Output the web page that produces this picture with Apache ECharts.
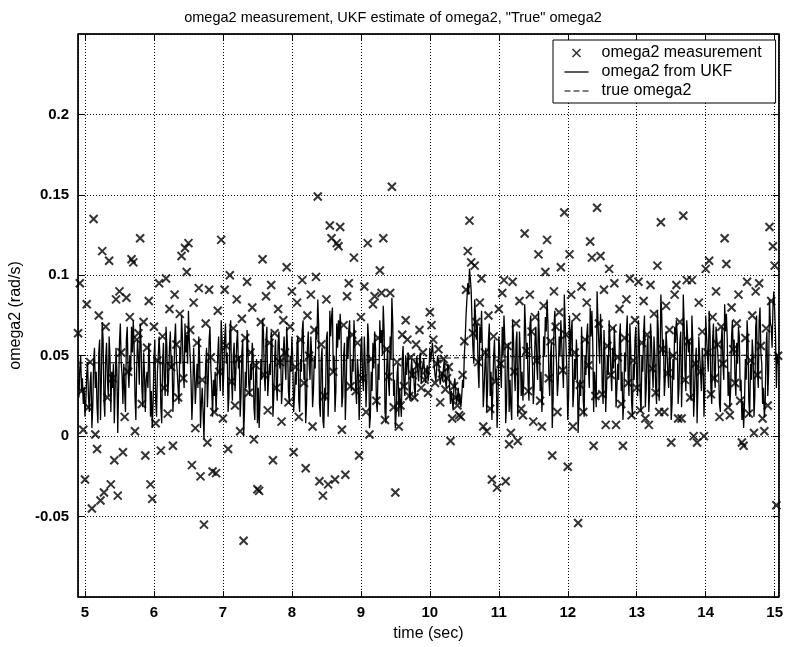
<!DOCTYPE html>
<html>
<head>
<meta charset="utf-8">
<script src="https://cdn.jsdelivr.net/npm/echarts@6/dist/echarts.min.js"></script>
<style>
  html, body { margin: 0; padding: 0; background: #fff; }
  #chart { width: 786px; height: 647px; }
</style>
</head>
<body>
<div id="chart"></div>
<script>
// Sampling (seconds): measurements and filter output start at the same instant
const sampleStart = 4.9;
const measPeriod = 0.025;
const ukfPeriod = 0.0125;

// omega2 measurements (rad/s)
const measurement = [
  0.064,0.095,0.028,0.004,-0.027,0.082,0.018,0.046,-0.045,0.135,0.001,-0.008,0.075,-0.040,0.115,-0.035,0.068,0.024,0.109,-0.030,
  0.036,-0.015,0.085,-0.037,0.090,0.052,-0.010,0.012,0.086,0.040,0.074,0.110,0.108,0.003,0.060,0.064,0.123,0.020,0.071,-0.012,
  0.055,0.084,-0.030,-0.039,0.068,0.008,0.047,0.095,-0.009,0.062,0.030,0.098,0.014,0.079,0.043,-0.006,0.088,0.057,0.024,0.076,
  0.112,0.036,0.117,0.102,0.120,0.066,-0.018,0.083,0.005,0.058,0.092,-0.025,0.035,-0.055,0.070,-0.004,0.091,0.049,-0.022,0.015,
  -0.023,0.078,0.040,0.122,0.011,0.091,0.056,-0.008,0.100,0.034,0.067,0.019,0.085,0.048,0.003,0.073,-0.065,0.061,0.096,0.027,
  0.052,0.080,-0.002,0.044,-0.033,-0.034,0.071,0.110,0.038,0.087,0.016,0.058,0.094,-0.015,0.064,0.030,0.079,0.046,0.009,0.072,
  0.052,0.105,0.021,0.068,0.090,-0.010,0.043,0.083,0.012,0.060,0.097,0.033,-0.020,0.075,0.050,0.088,0.006,0.066,0.099,0.149,
  -0.028,0.057,-0.037,0.025,0.085,-0.030,0.131,0.123,0.040,-0.027,0.120,0.118,0.130,0.004,0.069,-0.024,0.087,0.095,0.031,0.063,
  0.111,0.028,0.058,-0.012,0.074,0.036,0.093,0.015,0.120,0.001,0.048,0.082,0.087,0.022,0.061,0.103,0.089,0.123,0.010,0.054,
  0.037,0.089,0.155,0.018,-0.035,0.046,0.006,0.019,0.063,0.031,0.072,0.060,0.025,0.049,0.038,0.024,0.057,0.044,0.066,0.030,
  0.052,0.035,0.041,0.027,0.077,0.069,0.060,0.033,0.045,0.054,0.021,0.039,0.048,0.029,0.036,0.043,-0.003,0.011,0.031,0.024,
  0.019,0.013,0.012,0.038,0.059,0.091,0.115,0.134,0.108,0.064,0.106,0.071,0.046,0.083,0.098,0.006,0.052,0.003,0.075,0.017,
  -0.027,0.062,0.034,-0.032,0.079,0.045,0.089,0.097,-0.028,0.056,-0.005,0.002,0.096,0.040,0.070,-0.003,0.084,0.017,0.013,0.126,
  0.053,0.028,0.088,0.065,0.009,0.074,0.047,0.113,0.022,0.006,0.081,0.102,0.122,0.036,0.059,-0.012,0.090,0.068,0.015,0.077,
  0.105,0.041,0.139,0.063,-0.019,0.113,0.088,0.006,0.052,0.074,-0.054,0.032,0.093,0.015,0.060,0.083,0.044,0.121,0.111,-0.006,
  0.025,0.142,0.070,0.112,0.026,0.091,0.007,0.056,0.104,0.038,0.067,0.095,0.007,0.049,0.079,0.020,-0.006,0.061,0.085,0.033,
  0.098,0.013,0.047,0.072,0.030,0.096,0.016,0.058,0.084,0.011,0.063,0.007,0.094,0.042,0.076,0.027,0.106,0.015,0.133,0.054,
  0.015,0.081,0.039,0.066,-0.004,0.050,0.088,0.094,0.011,0.071,0.011,0.137,0.035,0.097,0.059,0.024,0.097,0.000,0.045,-0.004,
  0.083,0.040,0.065,0.000,0.104,0.052,0.109,0.026,0.074,0.036,0.090,0.057,0.012,0.068,0.045,0.123,0.107,0.018,0.013,0.080,
  0.054,0.033,0.070,0.088,0.022,-0.004,-0.006,0.061,0.096,0.014,0.047,0.075,0.002,0.090,0.038,0.095,0.056,0.011,0.003,0.067,
  0.019,0.130,0.084,0.118,0.106,-0.043,0.050
];

// UKF estimate of omega2 (rad/s)
const ukfEstimate = [
  0.035,0.024,0.042,0.050,0.028,0.036,0.020,0.030,0.012,0.022,0.038,0.046,0.025,0.015,0.033,0.040,0.005,0.018,0.045,0.055,
  0.030,0.040,0.018,0.008,0.052,0.060,0.010,0.035,0.071,0.060,0.022,0.012,0.048,0.058,0.035,0.025,0.062,0.050,0.015,0.040,
  0.030,0.045,0.008,0.030,0.055,0.040,0.002,0.030,0.058,0.070,0.046,0.038,0.020,0.045,0.028,0.015,0.060,0.068,0.041,0.030,
  0.050,0.040,0.068,0.052,0.072,0.055,0.025,0.010,0.043,0.060,0.048,0.032,0.070,0.058,0.030,0.018,0.052,0.040,0.015,0.035,
  0.040,0.030,0.058,0.045,0.012,0.028,0.005,0.020,0.048,0.060,0.022,0.012,0.040,0.050,0.062,0.048,0.018,0.008,0.045,0.058,
  0.035,0.025,0.068,0.055,0.025,0.035,0.055,0.065,0.042,0.050,0.015,0.030,0.060,0.070,0.048,0.040,0.030,0.020,0.055,0.045,
  0.075,0.062,0.040,0.030,0.070,0.052,0.063,0.045,0.078,0.060,0.050,0.035,0.010,0.025,0.055,0.040,0.020,0.032,0.045,0.030,
  0.062,0.048,0.005,0.020,0.030,0.015,-0.002,0.025,0.045,0.055,0.018,0.035,0.060,0.068,0.042,0.030,0.012,0.035,0.025,0.040,
  0.015,0.030,0.050,0.062,0.038,0.028,0.072,0.060,0.025,0.040,0.060,0.070,0.045,0.052,0.015,0.025,0.065,0.072,0.035,0.022,
  0.050,0.058,0.028,0.040,0.058,0.066,0.042,0.050,0.012,0.025,0.052,0.060,0.000,0.015,0.040,0.030,0.066,0.055,0.032,0.025,
  0.045,0.035,0.058,0.050,0.018,0.010,0.040,0.048,0.008,0.030,0.005,0.022,0.048,0.035,0.073,0.065,0.038,0.028,0.060,0.068,
  0.025,0.035,0.045,0.038,0.065,0.058,0.012,0.025,0.048,0.060,0.032,0.022,0.058,0.065,0.042,0.050,0.020,0.030,0.052,0.062,
  0.045,0.035,0.068,0.055,0.028,0.020,0.050,0.040,0.062,0.048,0.015,0.025,0.040,0.032,0.058,0.062,0.022,0.015,0.048,0.040,
  0.066,0.072,0.035,0.045,0.008,0.020,0.055,0.065,0.045,0.035,0.062,0.050,0.018,0.028,0.050,0.042,0.068,0.060,0.085,0.070,
  0.020,0.012,0.048,0.055,0.010,0.005,0.030,0.022,0.060,0.065,0.012,0.030,0.078,0.062,0.074,0.080,0.040,0.050,0.015,0.028,
  0.070,0.055,0.072,0.060,0.076,0.065,0.018,0.025,0.050,0.058,0.010,0.030,0.062,0.048,0.066,0.072,0.035,0.028,0.048,0.040,
  0.072,0.058,0.030,0.020,0.048,0.040,0.010,0.025,0.055,0.062,0.035,0.028,0.062,0.045,0.018,0.035,0.070,0.060,0.005,0.012,
  0.040,0.028,0.058,0.042,0.065,0.055,0.022,0.015,0.045,0.035,0.072,0.058,0.066,0.050,0.081,0.065,0.015,0.008,0.042,0.055,
  0.035,0.025,0.062,0.048,0.086,0.070,0.025,0.035,0.005,0.015,0.038,0.045,0.012,0.030,0.020,0.012,0.048,0.056,0.032,0.025,
  0.050,0.038,0.046,0.052,0.028,0.022,0.040,0.048,0.036,0.042,0.030,0.024,0.045,0.050,0.040,0.034,0.048,0.052,0.033,0.040,
  0.045,0.048,0.038,0.033,0.040,0.044,0.034,0.040,0.055,0.046,0.052,0.058,0.050,0.044,0.038,0.034,0.043,0.050,0.047,0.040,
  0.032,0.036,0.040,0.034,0.044,0.048,0.035,0.030,0.038,0.045,0.041,0.030,0.020,0.028,0.022,0.016,0.032,0.036,0.028,0.020,
  0.024,0.030,0.020,0.026,0.018,0.025,0.035,0.030,0.050,0.060,0.075,0.085,0.095,0.088,0.104,0.098,0.090,0.070,0.055,0.045,
  0.085,0.075,0.060,0.070,0.042,0.030,0.068,0.058,0.078,0.052,0.018,0.030,0.045,0.055,0.015,0.030,0.060,0.070,0.025,0.040,
  0.010,0.028,0.050,0.060,0.035,0.042,0.005,0.020,0.062,0.055,0.040,0.030,0.068,0.050,0.075,0.060,0.008,0.020,0.048,0.058,
  0.015,0.035,0.018,0.010,0.072,0.062,0.040,0.028,0.058,0.065,0.012,0.030,0.065,0.052,0.025,0.040,0.022,0.035,0.082,0.068,
  0.048,0.058,0.032,0.022,0.068,0.075,0.055,0.045,0.020,0.030,0.060,0.068,0.045,0.035,0.078,0.062,0.028,0.040,0.015,0.028,
  0.062,0.050,0.074,0.065,0.085,0.070,0.038,0.025,0.050,0.058,0.005,0.022,0.068,0.078,0.058,0.045,0.025,0.035,0.062,0.050,
  0.072,0.058,0.042,0.030,0.088,0.070,0.055,0.040,0.010,0.025,0.075,0.050,0.065,0.072,0.018,0.028,0.048,0.035,0.060,0.048,
  0.002,0.018,0.035,0.025,0.068,0.052,0.022,0.012,0.050,0.038,0.062,0.070,0.042,0.030,0.080,0.062,0.078,0.058,0.015,0.040,
  0.030,0.018,0.090,0.072,0.058,0.045,0.076,0.062,0.030,0.020,0.066,0.050,0.015,0.030,0.050,0.038,0.072,0.060,0.040,0.028,
  0.055,0.042,0.068,0.052,0.018,0.030,0.045,0.035,0.062,0.070,0.028,0.040,0.010,0.022,0.052,0.040,0.065,0.075,0.036,0.025,
  0.070,0.055,0.022,0.012,0.045,0.035,0.060,0.068,0.035,0.025,0.072,0.058,0.025,0.015,0.050,0.040,0.065,0.075,0.018,0.030,
  0.055,0.062,0.015,0.028,0.070,0.060,0.042,0.030,0.062,0.050,0.030,0.020,0.078,0.065,0.022,0.040,0.088,0.075,0.050,0.060,
  0.025,0.035,0.065,0.055,0.040,0.030,0.055,0.045,0.010,0.020,0.048,0.035,0.068,0.058,0.072,0.062,0.020,0.030,0.058,0.065,
  0.018,0.040,0.088,0.070,0.040,0.028,0.072,0.062,0.052,0.060,0.030,0.022,0.075,0.060,0.012,0.025,0.045,0.055,0.008,0.030,
  0.062,0.050,0.040,0.028,0.055,0.045,0.012,0.030,0.075,0.062,0.050,0.040,0.078,0.065,0.030,0.020,0.060,0.070,0.038,0.030,
  0.068,0.060,0.052,0.040,0.020,0.015,0.058,0.068,0.045,0.035,0.082,0.065,0.076,0.060,0.025,0.040,0.018,0.030,0.062,0.072,
  0.050,0.060,0.035,0.025,0.058,0.045,0.068,0.062,0.028,0.035,0.010,0.022,0.005,0.020,0.048,0.035,0.072,0.060,0.022,0.012,
  0.045,0.035,0.060,0.050,0.012,0.025,0.068,0.075,0.040,0.030,0.072,0.080,0.052,0.045,0.020,0.030,0.012,0.020,0.055,0.065,
  0.025,0.040,0.085,0.070,0.068,0.055,0.080,0.090,0.078,0.062,0.030,0.050,0.045
];

// "True" omega2 (rad/s)
const trueTimes  = [4.9, 7, 9, 10, 11, 12, 15.06];
const trueOmega2 = [0.0455, 0.046, 0.0473, 0.0483, 0.0492, 0.0499, 0.0504];

const seriesNames = ['omega2 measurement', 'omega2 from UKF', 'true omega2'];
const titleText = 'omega2 measurement, UKF estimate of omega2, "True" omega2';

const timesFor = (values, period) => values.map((_, i) => +(sampleStart + i * period).toFixed(4));
const zip = (xs, ys) => xs.map((x, i) => [x, ys[i]]);

const FONT = '"Liberation Sans", Arial, Helvetica, sans-serif';
const crossPath = 'path://M0,0L10,10M10,0L0,10';
const solidIcon = 'path://M0,0M0,4H24M0,8';
const dashedIcon = 'path://M0,0M0,4H6M9,4H15M18,4H24M0,8';

const xRange = { min: 4.9, max: 15.06 };
const yRange = { min: -0.1, max: 0.25, interval: 0.05 };

const frameLine = { show: true, onZero: false, lineStyle: { color: '#000', width: 1.5 } };
const innerTick = { show: true, inside: true, length: 6, lineStyle: { color: '#000', width: 1 } };
const dotted = { show: true, lineStyle: { color: '#000', width: 1, type: [1, 2] } };
const tickFont = { color: '#000', fontFamily: FONT, fontSize: 15, fontWeight: 'bold' };
const nameFont = { color: '#000', fontFamily: FONT, fontSize: 16 };
const strokeOnly = (w) => ({ color: 'none', borderColor: '#000', borderWidth: w });

const chart = echarts.init(document.getElementById('chart'), null, { renderer: 'canvas' });

chart.setOption({
  animation: false,
  backgroundColor: '#fff',
  textStyle: { fontFamily: FONT },
  title: {
    text: titleText,
    left: 'center',
    top: 5,
    textStyle: { color: '#000', fontFamily: FONT, fontSize: 14.5, fontWeight: 'normal' }
  },
  grid: {
    left: 76, right: 6, top: 34, bottom: 49,
    show: true, borderColor: '#000', borderWidth: 1
  },
  legend: {
    orient: 'vertical',
    left: 553,
    top: 40,
    padding: [4, 14, 3, 9],
    itemGap: 1,
    itemWidth: 24,
    itemHeight: 8,
    backgroundColor: '#fff',
    borderColor: '#000',
    borderWidth: 1,
    borderRadius: 0,
    selectedMode: false,
    textStyle: { color: '#000', fontFamily: FONT, fontSize: 16, lineHeight: 18, padding: [0, 0, 0, 8] },
    data: [
      { name: seriesNames[0], icon: crossPath, itemStyle: strokeOnly(1.6) },
      { name: seriesNames[1], icon: solidIcon, itemStyle: strokeOnly(1.3) },
      { name: seriesNames[2], icon: dashedIcon, itemStyle: strokeOnly(1.1) }
    ]
  },
  xAxis: [
    {
      type: 'value', ...xRange, minInterval: 1, maxInterval: 1, position: 'bottom',
      name: 'time (sec)', nameLocation: 'middle', nameGap: 29, nameTextStyle: nameFont,
      axisLine: frameLine, axisTick: innerTick, splitLine: dotted,
      axisLabel: { ...tickFont, margin: 8, showMinLabel: false, showMaxLabel: false }
    },
    {
      type: 'value', ...xRange, minInterval: 1, maxInterval: 1, position: 'top',
      axisLine: frameLine, axisTick: innerTick, splitLine: { show: false },
      axisLabel: { show: false }
    }
  ],
  yAxis: [
    {
      type: 'value', ...yRange, position: 'left',
      name: 'omega2 (rad/s)', nameLocation: 'middle', nameGap: 42, nameTextStyle: nameFont,
      axisLine: frameLine, axisTick: innerTick, splitLine: dotted,
      axisLabel: { ...tickFont, margin: 9, showMinLabel: false, showMaxLabel: false }
    },
    {
      type: 'value', ...yRange, position: 'right',
      axisLine: frameLine, axisTick: innerTick, splitLine: { show: false },
      axisLabel: { show: false }
    }
  ],
  series: [
    {
      name: seriesNames[0],
      type: 'scatter',
      data: zip(timesFor(measurement, measPeriod), measurement),
      symbol: crossPath,
      symbolSize: 8,
      itemStyle: strokeOnly(2),
      silent: true,
      z: 2
    },
    {
      name: seriesNames[1],
      type: 'line',
      data: zip(timesFor(ukfEstimate, ukfPeriod), ukfEstimate),
      symbol: 'none',
      lineStyle: { color: '#000', width: 1.3 },
      itemStyle: { color: '#000' },
      silent: true,
      z: 3
    },
    {
      name: seriesNames[2],
      type: 'line',
      data: zip(trueTimes, trueOmega2),
      symbol: 'none',
      lineStyle: { color: '#000', width: 1, type: [5, 3] },
      itemStyle: { color: '#000' },
      silent: true,
      z: 4
    }
  ]
});
</script>
</body>
</html>
